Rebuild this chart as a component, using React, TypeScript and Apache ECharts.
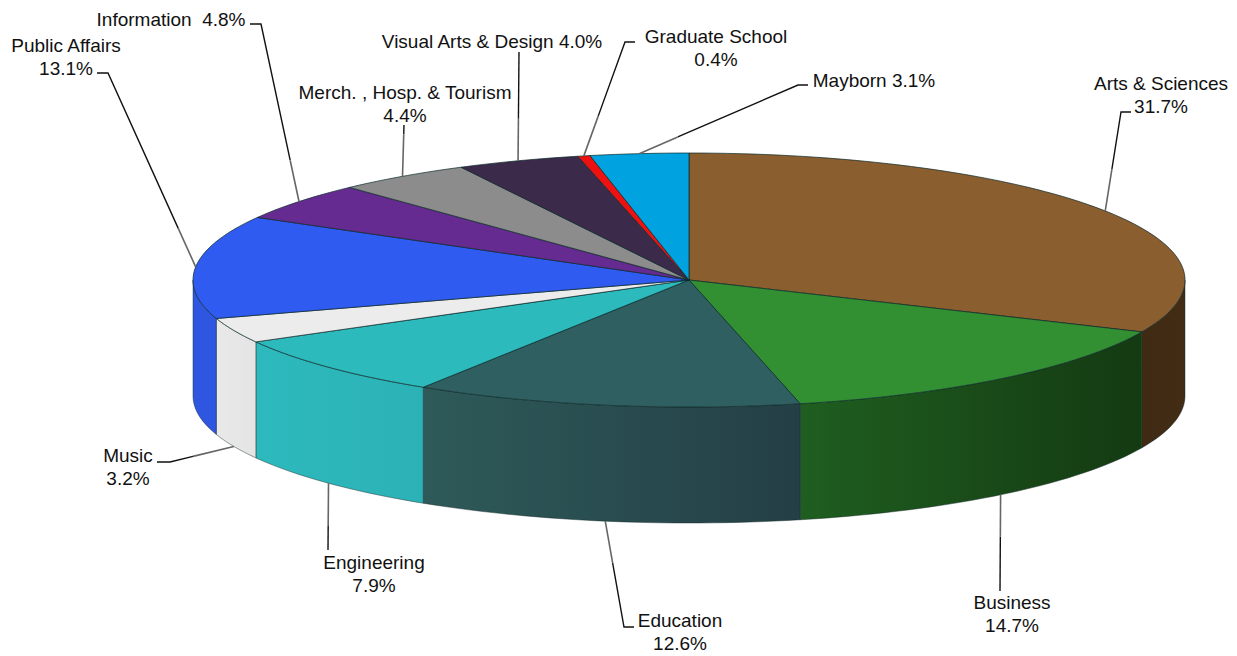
import React, { useEffect, useRef } from "react";
import * as echarts from "echarts";

const names = ["Arts & Sciences", "Business", "Education", "Engineering", "Music", "Public Affairs", "Information", "Merch. , Hosp. & Tourism", "Visual Arts & Design", "Graduate School", "Mayborn"];
const values = [31.7, 14.7, 12.6, 7.9, 3.2, 13.1, 4.8, 4.4, 4.0, 0.4, 3.1];
const separators = ["\n", "\n", "\n", "\n", "\n", "\n", "  ", "\n", " ", "\n", " "];
const topColors = ["#8b5e2f", "#329033", "#2f5f60", "#2dbabc", "#ececec", "#2f5bf0", "#662b91", "#8c8c8c", "#3b2a4a", "#ee1111", "#00a3e0"];
const wallLeft = ["#3f2a14", "#1f5e20", "#2e5a59", "#2db9bd", "#e9e9e9", "#2f56e0", "#662b91", "#8c8c8c", "#3b2a4a", "#ee1111", "#00a3e0"];
const wallRight = ["#432c14", "#143a12", "#243f46", "#2cb2b6", "#e4e4e4", "#2f56e0", "#662b91", "#8c8c8c", "#3b2a4a", "#ee1111", "#00a3e0"];
const labelX = [1161, 1012, 680, 374, 128, 66, 171, 405, 492, 716, 874];
const labelY = [95, 614, 632, 574, 467, 57, 19, 104, 41, 48, 80];
const leaderBends: number[][][] = [
  [[1121, 112], [1131, 112]],
  [[1000, 591]],
  [[624, 627], [634, 627]],
  [[328, 550]],
  [[170, 462], [157, 462]],
  [[108, 73], [97, 73]],
  [[261, 24], [250, 24]],
  [[404, 125]],
  [[519, 52]],
  [[625, 42], [635, 42]],
  [[798, 85], [808, 85]],
];
const anchorNudge = [0, 0.5, 0, 0, 0, 0, 0, 0, 0, 0, 0];

const CX = 689, CY = 280, RX = 496, RY = 127, DEPTH = 116, GREY_LEN = 42;
const pt = (deg: number, dy = 0) => {
  const a = (deg * Math.PI) / 180;
  return [CX + RX * Math.sin(a), CY - RY * Math.cos(a) + dy];
};
const spans = (() => {
  let c = 0;
  return values.map((v, i) => {
    const s = c;
    c += v;
    return [(s * 360) / 100, i === values.length - 1 ? 360 : (c * 360) / 100];
  });
})();
const arc = (from: number, to: number, dy = 0) => {
  const n = Math.max(2, Math.ceil((to - from) / 1.5));
  const out: number[][] = [];
  for (let k = 0; k <= n; k++) out.push(pt(from + ((to - from) * k) / n, dy));
  return out;
};
const source = names.map((n, i) => [i, values[i]]);

const renderWall = (p: any) => {
  const i = p.dataIndex;
  const from = Math.max(spans[i][0], 90), to = Math.min(spans[i][1], 270);
  if (to <= from) return { type: "group", children: [] };
  const top = arc(from, to), bottom = arc(from, to, DEPTH).reverse();
  return {
    type: "polygon",
    shape: { points: top.concat(bottom) },
    style: {
      fill: new echarts.graphic.LinearGradient(0, 0, 1, 0, [
        { offset: 0, color: wallLeft[i] },
        { offset: 1, color: wallRight[i] },
      ]),
      stroke: "rgba(20,40,40,0.45)",
      lineWidth: 1,
    },
  };
};
const renderTop = (p: any) => {
  const i = p.dataIndex;
  const pts = [[CX, CY]].concat(arc(spans[i][0], spans[i][1]));
  return {
    type: "polygon",
    shape: { points: pts },
    style: { fill: topColors[i], stroke: "rgba(10,40,40,0.7)", lineWidth: 1 },
  };
};
const renderLabel = (p: any, api: any) => {
  const i = p.dataIndex;
  const mid = (spans[i][0] + spans[i][1]) / 2 + anchorNudge[i];
  const front = mid > 90 && mid < 270;
  const anchor = pt(mid, front ? DEPTH : 0);
  const bends = leaderBends[i];
  const first = bends[0];
  const len = Math.hypot(first[0] - anchor[0], first[1] - anchor[1]);
  const g = Math.min(1, GREY_LEN / len);
  const split = [anchor[0] + (first[0] - anchor[0]) * g, anchor[1] + (first[1] - anchor[1]) * g];
  return {
    type: "group",
    children: [
      { type: "polyline", shape: { points: [split, ...bends] }, style: { fill: "none", stroke: "#111111", lineWidth: 1.4 } },
      { type: "line", shape: { x1: anchor[0], y1: anchor[1], x2: split[0], y2: split[1] }, style: { stroke: "#666666", lineWidth: 1.6 } },
      {
        type: "text",
        x: labelX[i],
        y: labelY[i],
        style: {
          text: `${names[i]}${separators[i]}${api.value(1).toFixed(1)}%`,
          fill: "#111111",
          font: '19px "Liberation Sans", Arial, sans-serif',
          lineHeight: 23,
          align: "center",
          verticalAlign: "middle",
        },
      },
    ],
  };
};

export default function App() {
  const ref = useRef<HTMLDivElement>(null);
  useEffect(() => {
    const chart = echarts.init(ref.current!, null, { renderer: "svg" });
    chart.setOption({
      animation: false,
      backgroundColor: "#ffffff",
      series: [
        { type: "custom", coordinateSystem: "none", data: source, renderItem: renderWall, z: 1, silent: true },
        { type: "custom", coordinateSystem: "none", data: source, renderItem: renderTop, z: 2, silent: true },
        { type: "custom", coordinateSystem: "none", data: source, renderItem: renderLabel, z: 3, silent: true },
      ],
    });
    return () => chart.dispose();
  }, []);
  return <div ref={ref} style={{ position: "absolute", left: 0, top: 0, width: 1237, height: 656 }} />;
}
